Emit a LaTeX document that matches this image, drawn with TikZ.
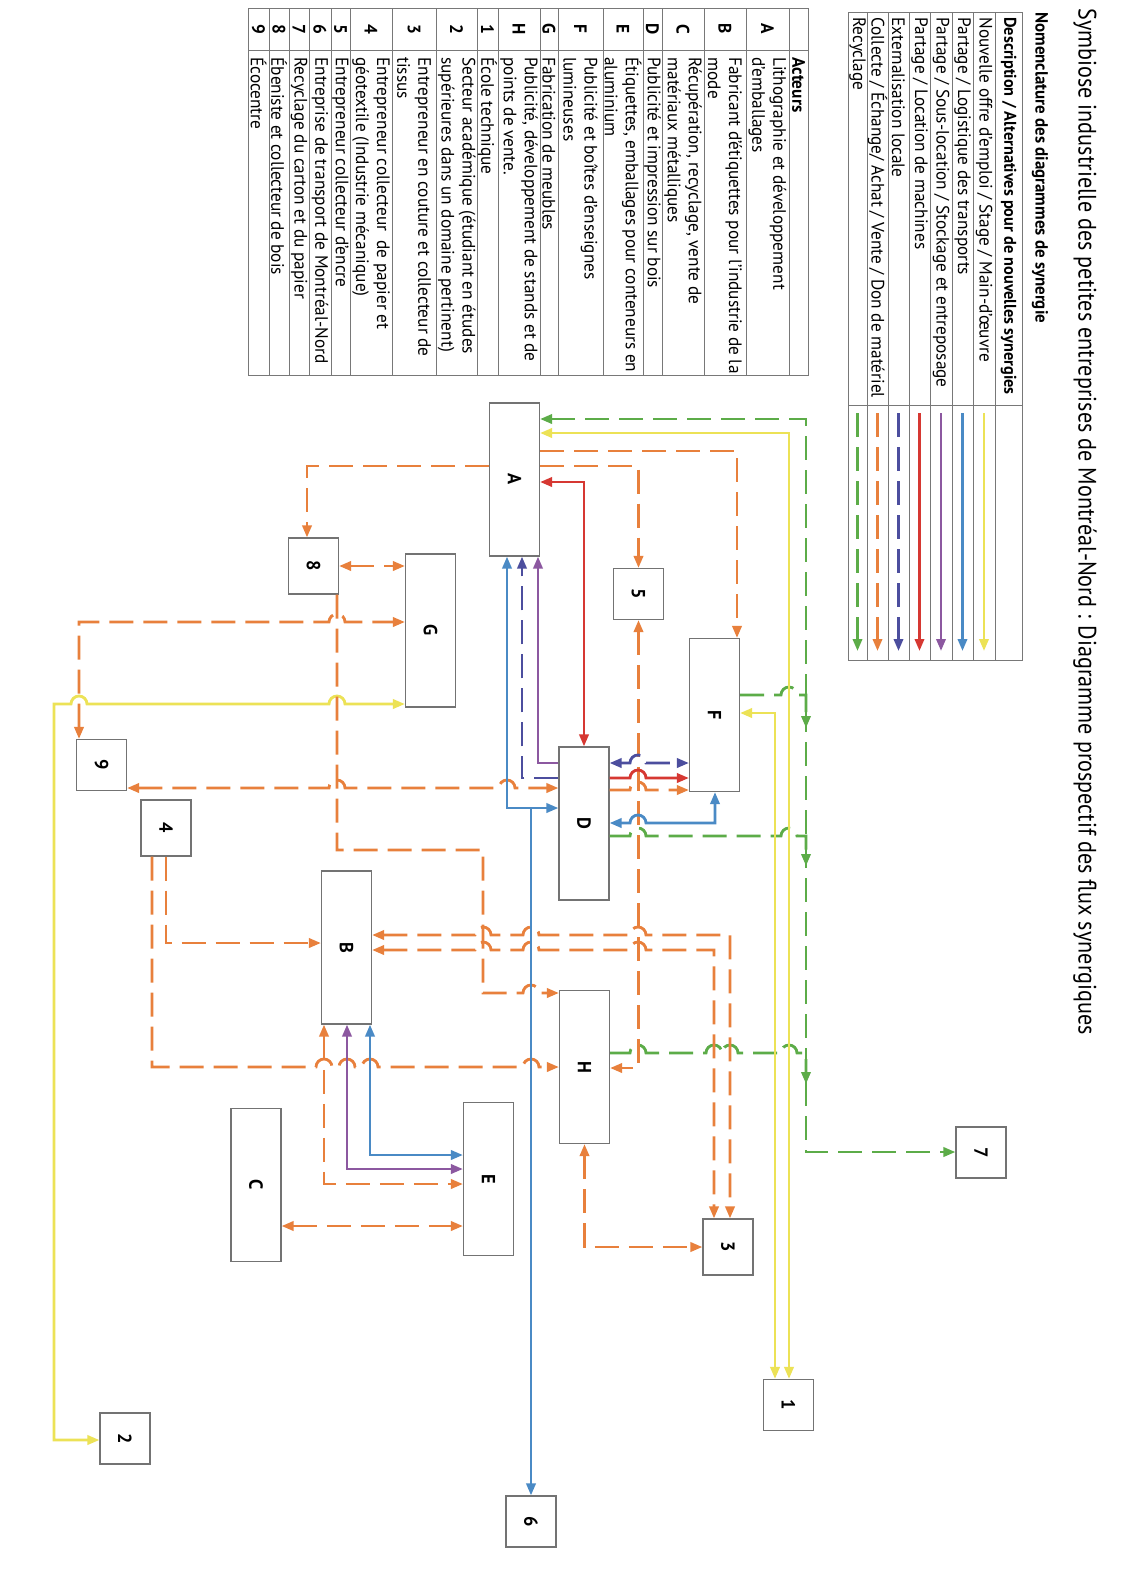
\documentclass[tikz,border=0pt]{standalone}
\usepackage{fontspec}
\setmainfont{PT Sans}[FakeStretch=0.96]
\newfontfamily\titlefont{PT Sans}[FakeStretch=0.88]
\usetikzlibrary{arrows.meta}
\definecolor{cyel}{RGB}{236,226,86}
\definecolor{cblue}{RGB}{74,138,197}
\definecolor{cpurp}{RGB}{140,88,160}
\definecolor{cred}{RGB}{214,56,50}
\definecolor{cnavy}{RGB}{76,78,158}
\definecolor{corg}{RGB}{232,128,60}
\definecolor{cgrn}{RGB}{92,172,72}
\definecolor{boxgray}{RGB}{115,115,115}
\definecolor{rulegray}{RGB}{120,120,120}
% line hops: a small half circle over a crossing line, moving right or left
\newcommand\hopR[2]{-- ({#1-8},#2) arc[start angle=180,end angle=0,radius=4pt]}
\newcommand\hopL[2]{-- ({#1+8},#2) arc[start angle=0,end angle=180,radius=4pt]}
\begin{document}
\begin{tikzpicture}[x=0.5pt,y=-0.5pt,
  >={Triangle[length=6pt,width=4.6pt]},
  flow/.style={line width=1.4pt},
  dsh/.style={dash pattern=on 12pt off 5pt},
  box/.style={draw=boxgray, line width=0.55pt, fill=white, inner sep=0pt,
    font=\bfseries\fontsize{9.5}{9.5}\selectfont},
  big/.style={box, minimum width=25pt, minimum height=76.5pt},
  small/.style={box, minimum width=25pt, minimum height=25.5pt},
  smallt/.style={box, minimum width=25pt, minimum height=28pt},
  rule/.style={draw=rulegray, line width=0.5pt},
  cell/.style={rotate=-90, anchor=west, inner sep=0pt, align=left,
    font=\fontsize{9}{10.5}\selectfont},
  letter/.style={rotate=-90, inner sep=0pt, font=\bfseries\fontsize{9}{10.5}\selectfont}]
\useasboundingbox (0,0) rectangle (1144,1571);
\fill[white] (0,0) rectangle (1144,1571);

% ---------- title ----------
\node[rotate=-90, anchor=west, inner sep=0pt, font=\titlefont\fontsize{12.6}{13}\selectfont]
  (title) at (1085,8) {Symbiose industrielle des petites entreprises de Montréal-Nord : Diagramme prospectif des flux synergiques};
\node[rotate=-90, anchor=west, inner sep=0pt, font=\bfseries\fontsize{8.8}{10}\selectfont]
  (nomen) at (1040,12) {Nomenclature des diagrammes de synergie};

% ---------- legend table ----------
\draw[rule] (848,12) rectangle (1022,660);
\foreach \xx in {867,888,909,930,952,973,995} \draw[rule] (\xx,12) -- (\xx,660);
\draw[rule] (848,405) -- (1022,405);
\node[cell, font=\bfseries\fontsize{8.5}{10}\selectfont] (lh) at (1008.5,17) {Description / Alternatives pour de nouvelles synergies};
\node[cell] (l1) at (984,17) {Nouvelle offre d'emploi / Stage / Main-d'œuvre};
\node[cell] (l2) at (962.5,17) {Partage / Logistique des transports};
\node[cell] (l3) at (941,17) {Partage / Sous-location / Stockage et entreposage};
\node[cell] (l4) at (919.5,17) {Partage / Location de machines};
\node[cell] (l5) at (898.5,17) {Externalisation locale};
\node[cell] (l6) at (877.5,17) {Collecte / Échange/ Achat / Vente / Don de matériel};
\node[cell] (l7) at (857.5,17) {Recyclage};
\coordinate (la1) at (984,413);   \coordinate (lb1) at (984,651);
\coordinate (la2) at (962.5,413); \coordinate (lb2) at (962.5,651);
\coordinate (la3) at (941,413);   \coordinate (lb3) at (941,651);
\coordinate (la4) at (919.5,413); \coordinate (lb4) at (919.5,651);
\coordinate (la5) at (898.5,413); \coordinate (lb5) at (898.5,651);
\coordinate (la6) at (877.5,413); \coordinate (lb6) at (877.5,651);
\coordinate (la7) at (857.5,413); \coordinate (lb7) at (857.5,651);
\draw[flow,cyel,->] (la1) -- (lb1);
\draw[flow,cblue,->] (la2) -- (lb2);
\draw[flow,cpurp,->] (la3) -- (lb3);
\draw[flow,cred,->] (la4) -- (lb4);
\draw[flow,cnavy,dsh,->] (la5) -- (lb5);
\draw[flow,corg,dsh,->] (la6) -- (lb6);
\draw[flow,cgrn,dsh,->] (la7) -- (lb7);

% ---------- actors table ----------
\draw[rule] (248,8) rectangle (808,375);
\foreach \xx in {789,746,704,662,643,603,558,540,498,477,436,392,350,331,309,289,269}
  \draw[rule] (\xx,8) -- (\xx,375);
\draw[rule] (248,50) -- (808,50);
\node[cell, font=\bfseries\fontsize{9}{10.5}\selectfont] (th) at (798.5,57) {Acteurs};
\node[letter] (kA) at (767.5,29) {A}; \node[cell] (tA) at (767.5,57) {Lithographie et développement\\d'emballages};
\node[letter] (kB) at (725,29) {B};   \node[cell] (tB) at (725,57) {Fabricant d'étiquettes pour l'industrie de la\\mode};
\node[letter] (kC) at (683,29) {C};   \node[cell] (tC) at (683,57) {Récupération, recyclage, vente de\\matériaux métalliques};
\node[letter] (kD) at (652.5,29) {D}; \node[cell] (tD) at (652.5,57) {Publicité et impression sur bois};
\node[letter] (kE) at (623,29) {E};   \node[cell] (tE) at (623,57) {Étiquettes, emballages pour conteneurs en\\aluminium};
\node[letter] (kF) at (580.5,29) {F}; \node[cell] (tF) at (580.5,57) {Publicité et boîtes d'enseignes\\lumineuses};
\node[letter] (kG) at (549,29) {G};   \node[cell] (tG) at (549,57) {Fabrication de meubles};
\node[letter] (kH) at (519,29) {H};   \node[cell] (tH) at (519,57) {Publicité, développement de stands et de\\points de vente.};
\node[letter] (k1) at (487.5,29) {1}; \node[cell] (t1) at (487.5,57) {École technique};
\node[letter] (k2) at (456.5,29) {2}; \node[cell] (t2) at (456.5,57) {Secteur académique (étudiant en études\\supérieures dans un domaine pertinent)};
\node[letter] (k3) at (414,29) {3};   \node[cell] (t3) at (414,57) {Entrepreneur en couture et collecteur de\\tissus};
\node[letter] (k4) at (371,29) {4};   \node[cell] (t4) at (371,57) {Entrepreneur collecteur\ \ de papier et\\géotextile (Industrie mécanique)};
\node[letter] (k5) at (340.5,29) {5}; \node[cell] (t5) at (340.5,57) {Entrepreneur collecteur d'encre};
\node[letter] (k6) at (320,29) {6};   \node[cell] (t6) at (320,57) {Entreprise de transport de Montréal-Nord};
\node[letter] (k7) at (299,29) {7};   \node[cell] (t7) at (299,57) {Recyclage du carton et du papier};
\node[letter] (k8) at (279,29) {8};   \node[cell] (t8) at (279,57) {Ébeniste et collecteur de bois};
\node[letter] (k9) at (258.5,29) {9}; \node[cell] (t9) at (258.5,57) {Écocentre};

% ---------- actor boxes ----------
\node[big] (A) at (514.5,479.5) {\rotatebox{-90}{A}};
\node[big] (B) at (346.5,947.5) {\rotatebox{-90}{B}};
\node[big] (C) at (256,1185) {\rotatebox{-90}{C}};
\node[big] (D) at (584,823.5) {\rotatebox{-90}{D}};
\node[big] (E) at (488.5,1179) {\rotatebox{-90}{E}};
\node[big] (F) at (714.5,715) {\rotatebox{-90}{F}};
\node[big] (G) at (430.5,630.5) {\rotatebox{-90}{G}};
\node[big] (H) at (584.5,1067) {\rotatebox{-90}{H}};
\node[small] (1) at (788.5,1405) {\rotatebox{-90}{1}};
\node[small] (2) at (125,1438.5) {\rotatebox{-90}{2}};
\node[smallt] (3) at (728,1247) {\rotatebox{-90}{3}};
\node[smallt] (4) at (166,828) {\rotatebox{-90}{4}};
\node[small] (5) at (638.5,594) {\rotatebox{-90}{5}};
\node[small] (6) at (531,1521.5) {\rotatebox{-90}{6}};
\node[small] (7) at (981,1152.5) {\rotatebox{-90}{7}};
\node[smallt] (8) at (313.5,566) {\rotatebox{-90}{8}};
\node[small] (9) at (101.5,765) {\rotatebox{-90}{9}};

% ---------- recycling (green) ----------
\coordinate (gt) at (806,419);
\coordinate (gb) at (806,1152);
\draw[flow,cgrn,dsh,<->] (A.east |- gt) -- (gt) -- (gb) -- (7.west |- gb);
\draw[flow,cgrn,dsh,->] (F.east |- 0,695) \hopR{789}{695} -- (806,695) -- (806,728);
\draw[flow,cgrn,dsh,->] (D.east |- 0,836) \hopR{638}{836} \hopR{789}{836} -- (806,836) -- (806,866);
\draw[flow,cgrn,dsh,->] (H.east |- 0,1053) \hopR{638}{1053} \hopR{714}{1053} \hopR{730}{1053} \hopR{789}{1053} -- (806,1053) -- (806,1084);

% ---------- employment / internships (yellow) ----------
\draw[flow,cyel,<->] (A.east |- 0,433) -- (789,433) -- (1.north -| 789,0);
\draw[flow,cyel,<->] (F.east |- 0,713) -- (775,713) -- (1.north -| 775,0);
\draw[flow,cyel,<->] (G.west |- 0,704) \hopL{337}{704} \hopL{79}{704} -- (54,704) -- (54,1440) -- (2.west |- 0,1440);

% ---------- collection / exchange (orange) ----------
\draw[flow,corg,dsh,->] (A.east |- 0,451) -- (737,451) -- (F.north -| 737,0);
\draw[flow,corg,dsh,->] (A.east |- 0,466) -- (5.north |- 0,466) -- (5.north);
\draw[flow,corg,dsh,->] (A.west |- 0,466) -- (307,466) -- (8.north -| 307,0);
\draw[flow,corg,dsh,<->] (5.south) -- (5.south |- 0,1068) -- (H.east |- 0,1068);
\draw[flow,corg,dsh,<->] (9.east |- 0,788) \hopR{337}{788} \hopR{507}{788} -- (D.west |- 0,788);
\draw[flow,corg,dsh,->] (D.east |- 0,790) \hopR{638}{790} -- (F.west |- 0,790);
\draw[flow,corg,dsh,->] (8.south -| 337,0) -- (337,850) -- (483,850) -- (483,993) \hopR{531}{993} -- (H.west |- 0,993);
\draw[flow,corg,dsh,<->] (9.north -| 79,0) -- (79,622) \hopR{337}{622} -- (G.west |- 0,622);
\draw[flow,corg,dsh,<->] (8.east |- 0,566) -- (G.west |- 0,566);
\draw[flow,corg,dsh,->] (4.south -| 166,0) -- (166,943) -- (B.west |- 0,943);
\draw[flow,corg,dsh,->] (4.south -| 152,0) -- (152,1067) \hopR{324}{1067} \hopR{347}{1067} \hopR{370}{1067} \hopR{531}{1067} -- (H.west |- 0,1067);
\draw[flow,corg,dsh,<->] (B.south -| 324,0) -- (324,1184) -- (E.west |- 0,1184);
\draw[flow,corg,dsh,<->] (C.east |- 0,1226) -- (E.west |- 0,1226);
\draw[flow,corg,dsh,<->] (H.south) -- (H.south |- 0,1247) -- (3.west |- 0,1247);
\draw[flow,corg,dsh,<->] (B.east |- 0,935) \hopR{483}{935} \hopR{531}{935} \hopR{638}{935} -- (730,935) -- (3.north -| 730,0);
\draw[flow,corg,dsh,<->] (B.east |- 0,950) \hopR{483}{950} \hopR{531}{950} \hopR{638}{950} -- (714,950) -- (3.north -| 714,0);

% ---------- machine rental (red) ----------
\draw[flow,cred,<->] (A.east |- 0,482) -- (D.north |- 0,482) -- (D.north);
\draw[flow,cred,->] (D.east |- 0,778) \hopR{638}{778} -- (F.west |- 0,778);

% ---------- local outsourcing (navy) ----------
\draw[flow,cnavy,dsh,<->] (D.east |- 0,763) \hopR{638}{763} -- (F.west |- 0,763);
\draw[flow,cnavy,dsh,->] (D.west |- 0,778) -- (522,778) -- (A.south -| 522,0);

% ---------- sub-letting / storage (purple) ----------
\draw[flow,cpurp,->] (D.west |- 0,763) -- (538,763) -- (A.south -| 538,0);
\draw[flow,cpurp,<->] (B.south -| 347,0) -- (347,1169) -- (E.west |- 0,1169);

% ---------- transport logistics (blue) ----------
\coordinate (bj) at (531,808);
\draw[flow,cblue,<->] (A.south -| 507,0) -- (507,808) -- (D.west |- 0,808);
\draw[flow,cblue,->] (bj) -- (6.north -| bj);
\draw[flow,cblue,<->] (F.south -| 715,0) -- (715,823) \hopL{638}{823} -- (D.east |- 0,823);
\draw[flow,cblue,<->] (B.south -| 370,0) -- (370,1155) -- (E.west |- 0,1155);
\end{tikzpicture}
\end{document}
